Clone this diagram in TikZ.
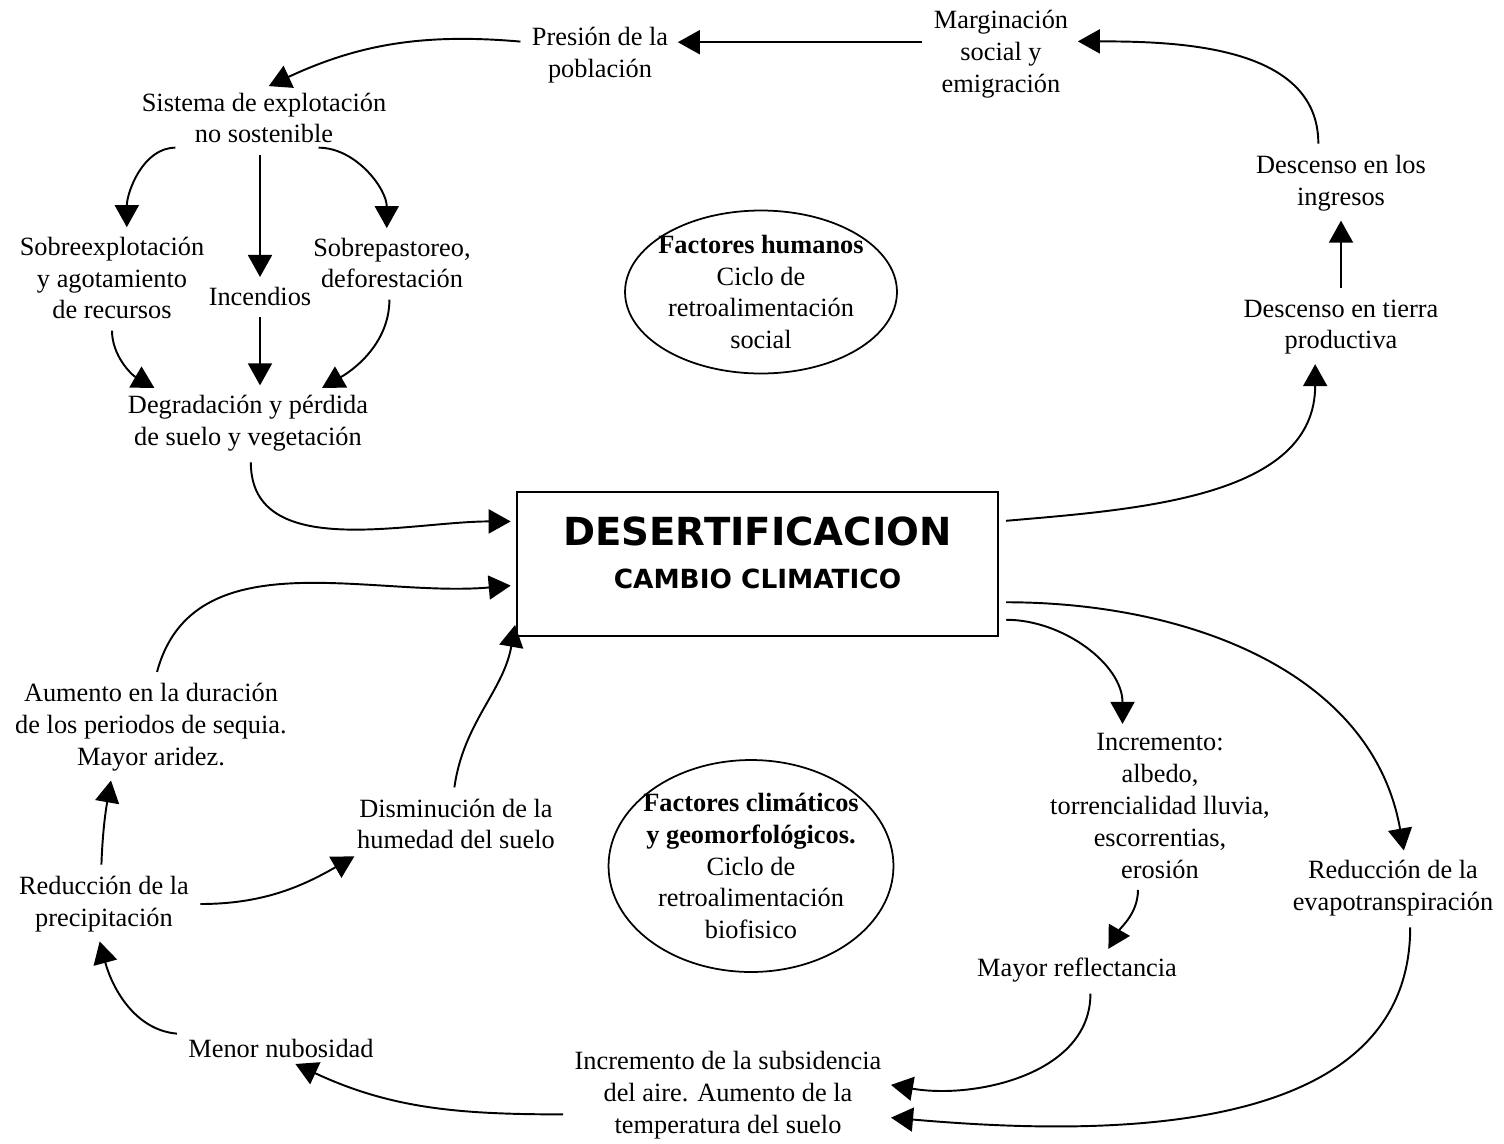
\documentclass[tikz,border=0pt]{standalone}
\usepackage{fontspec}
\setmainfont{Liberation Serif}
\newfontfamily\boxfont{DejaVu Sans}
\usetikzlibrary{arrows.meta,shapes.geometric}

\begin{document}
\begin{tikzpicture}[x=0.02cm, y=0.02cm, >={Triangle[length=4.4mm,width=4.8mm]}, line width=1.1pt,
  txt/.style={align=center, inner sep=2pt, font=\fontsize{15}{18.1}\selectfont},
  arr/.style={->, shorten <=4pt, shorten >=3pt},
  cyc/.style={ellipse, draw, line width=1pt, inner sep=0pt}]

  \useasboundingbox (0,0) rectangle (1504,-1143);

  % Central box
  \node[draw, line width=1.2pt, minimum width=9.62cm, minimum height=2.88cm] (des) at (757.5,-564) {};
  \node[anchor=base] (tit) at (757.5,-545) {\boxfont\bfseries\fontsize{22}{26}\selectfont DESERTIFICACION};
  \node[anchor=base] (sub) at (757.5,-588) {\boxfont\bfseries\fontsize{15}{18}\selectfont CAMBIO CLIMATICO};

  % Feedback cycles
  \node[cyc, minimum width=5.44cm, minimum height=3.26cm] (hum) at (761,-292) {};
  \node[txt] (humtxt) at (hum.center) {\textbf{Factores humanos}\\Ciclo de\\retroalimentación\\social};
  \node[cyc, minimum width=5.7cm, minimum height=4.24cm] (bio) at (751,-866) {};
  \node[txt] (biotxt) at (bio.center) {\textbf{Factores climáticos}\\\textbf{y geomorfológicos.}\\Ciclo de\\retroalimentación\\biofisico};

  % Human factors
  \node[txt] (pres) at (600,-55) {Presión de la\\población};
  \node[txt] (marg) at (1001,-54) {Marginación\\social y\\emigración};
  \node[txt] (sis) at (264,-118) {Sistema de explotación\\no sostenible};
  \node[txt] (sobre) at (112,-278) {Sobreexplotación\\y agotamiento\\de recursos};
  \node[txt] (inc) at (260,-296) {Incendios};
  \node[txt] (sobrep) at (392,-263) {Sobrepastoreo,\\deforestación};
  \node[txt] (degr) at (248,-423) {Degradación y pérdida\\de suelo y vegetación};
  \node[txt] (ingr) at (1341,-183) {Descenso en los\\ingresos};
  \node[txt] (tierra) at (1341,-327) {Descenso en tierra\\productiva};

  % Climatic factors
  \node[txt] (aum) at (151,-727) {Aumento en la duración\\de los periodos de sequia.\\Mayor aridez.};
  \node[txt] (dism) at (456,-824) {Disminución de la\\humedad del suelo};
  \node[txt] (redp) at (104,-904) {Reducción de la\\precipitación};
  \node[txt] (menor) at (281,-1048) {Menor nubosidad};
  \node[txt] (subs) at (728,-1095) {Incremento de la subsidencia\\del aire. Aumento de la\\temperatura del suelo};
  \node[txt] (incr) at (1160,-806) {Incremento:\\albedo,\\torrencialidad lluvia,\\escorrentias,\\erosión};
  \node[txt] (mayor) at (1077,-970) {Mayor reflectancia};
  \node[txt] (redev) at (1393,-888) {Reducción de la\\evapotranspiración};

  % Social loop
  \draw[arr] (pres.10 -| marg.west) -- (pres.10);
  \draw[arr] (pres.170) to[out=175, in=25] (sis.north);
  \draw[arr] (sis.200) to[out=180, in=90] (sobre.72);
  \draw[arr] (inc.north |- sis.south) -- (inc.north);
  \draw[arr] (sis.-32) to[out=0, in=90] (sobrep.100);
  \draw[arr] (sobre.south) to[out=-90, in=150] (degr.160);
  \draw[arr] (inc.south) -- (inc.south |- degr.north);
  \draw[arr] (sobrep.-95) to[out=-90, in=30] (degr.25);
  \draw[arr] (degr.-85) to[out=-90, in=180] (des.170);
  \draw[arr] (des.10) to[out=5, in=-90] (tierra.231);
  \draw[arr] (tierra.north) -- (ingr.south);
  \draw[arr] (ingr.125) to[out=90, in=0] (marg.10);

  % Biophysical loop
  \draw[arr] (des.-13) to[out=0, in=90] (incr.116);
  \draw[arr] (des.-9) to[out=0, in=100] (redev.70);
  \draw[arr] (incr.-106) to[out=-90, in=60] (mayor.30);
  \draw[arr] (mayor.-51) to[out=-90, in=-10] (subs.4);
  \draw[arr] (redev.-62) to[out=-90, in=-5] (subs.-8);
  \draw[arr] (subs.187) to[out=180, in=-25] (menor.-55);
  \draw[arr] (menor.north west) to[out=175, in=-75] (redp.-100);
  \draw[arr] (redp.95) to[out=88, in=-100] (aum.-129);
  \draw[arr] (redp.0) to[out=0, in=-150] (dism.197);
  \draw[arr] (aum.85) to[out=75, in=185] (des.185);
  \draw[arr] (dism.95) to[out=82, in=-100] (des.193);

\end{tikzpicture}
\end{document}
